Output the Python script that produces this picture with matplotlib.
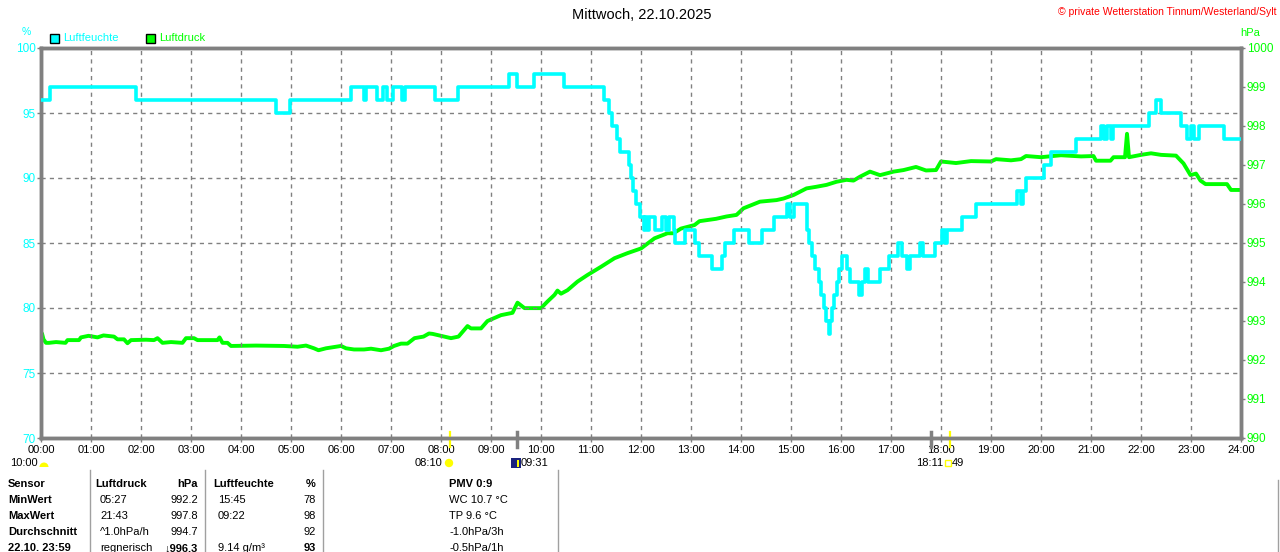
import matplotlib.pyplot as plt
from matplotlib.patches import Rectangle, Wedge, Circle

plt.rcParams['font.family'] = ['Liberation Sans', 'DejaVu Sans']

# Luftfeuchte (%) - stepwise readings, value holds until next time (hours)
hum_hours = [0, 0.17, 1.9, 4.69, 4.97, 6.2, 6.45, 6.5, 6.72, 6.84, 6.92, 7.04, 7.22, 7.28,
             7.88, 8.33, 9.37, 9.51, 9.86, 10.46, 11.25, 11.35, 11.41, 11.51, 11.57, 11.75,
             11.8, 11.83, 11.9, 11.98, 12.05, 12.08, 12.12, 12.16, 12.28, 12.41, 12.5, 12.55,
             12.65, 12.68, 12.88, 13.08, 13.15, 13.41, 13.61, 13.68, 13.85, 14.15, 14.41,
             14.65, 14.91, 14.98, 15.05, 15.31, 15.36, 15.41, 15.48, 15.55, 15.6, 15.65, 15.7,
             15.75, 15.78, 15.81, 15.86, 15.91, 15.96, 16.01, 16.11, 16.18, 16.35, 16.41,
             16.47, 16.53, 16.78, 16.95, 17.15, 17.22, 17.32, 17.37, 17.57, 17.64, 17.87,
             18.02, 18.08, 18.12, 18.42, 18.69, 19.52, 19.6, 19.64, 19.69, 20.05, 20.19,
             20.69, 21.19, 21.25, 21.31, 21.4, 21.44, 22.15, 22.29, 22.39, 22.79, 22.92,
             23.0, 23.05, 23.15, 23.65, 24]
hum_values = [96, 97, 96, 95, 96, 97, 96, 97, 96, 97, 96, 97, 96, 97,
              96, 97, 98, 97, 98, 97, 96, 95, 94, 93, 92, 91,
              90, 89, 88, 87, 86, 87, 86, 87, 86, 87, 86, 87,
              86, 85, 86, 85, 84, 83, 84, 85, 86, 85, 86,
              87, 88, 87, 88, 86, 85, 84, 83, 82, 81, 80, 79,
              78, 79, 80, 81, 82, 83, 84, 83, 82, 81, 82,
              83, 82, 83, 84, 85, 84, 83, 84, 85, 84, 85,
              86, 85, 86, 87, 88, 89, 88, 89, 90, 91, 92,
              93, 94, 93, 94, 93, 94, 95, 96, 95, 94, 93,
              94, 93, 94, 93, 93]

# Luftdruck (hPa)
pres_hours = [0.0, 0.02, 0.05, 0.1, 0.16, 0.3, 0.49, 0.53, 0.76, 0.8, 0.95, 1.13, 1.25, 1.46,
              1.53, 1.66, 1.73, 1.8, 2.1, 2.26, 2.33, 2.43, 2.6, 2.83, 2.9, 3.06, 3.13, 3.53,
              3.57, 3.63, 3.73, 3.8, 4.3, 4.86, 5.13, 5.3, 5.46, 5.55, 5.7, 6.0, 6.1, 6.26,
              6.46, 6.6, 6.8, 6.96, 7.06, 7.2, 7.33, 7.47, 7.65, 7.76, 7.83, 8.0, 8.2, 8.35,
              8.53, 8.6, 8.8, 8.93, 9.2, 9.43, 9.53, 9.67, 10.0, 10.13, 10.27, 10.33, 10.4,
              10.53, 10.73, 10.93, 11.2, 11.47, 11.73, 12.0, 12.27, 12.53, 12.65, 12.8, 13.07,
              13.17, 13.5, 13.71, 13.91, 14.05, 14.38, 14.71, 14.85, 15.05, 15.31, 15.5,
              15.71, 15.91, 16.11, 16.25, 16.38, 16.58, 16.78, 17.05, 17.25, 17.5, 17.7, 17.9,
              18.0, 18.3, 18.6, 19.0, 19.1, 19.4, 19.6, 19.7, 20.0, 20.4, 20.8, 21.05, 21.1,
              21.39, 21.45, 21.68, 21.72, 21.76, 22.0, 22.2, 22.4, 22.7, 22.85, 22.99, 23.1,
              23.19, 23.29, 23.72, 23.8, 24.0]
pres_values = [992.51, 992.68, 992.53, 992.44, 992.44, 992.46, 992.44, 992.51, 992.51, 992.58,
               992.62, 992.58, 992.63, 992.6, 992.53, 992.53, 992.43, 992.51, 992.52, 992.51,
               992.56, 992.44, 992.46, 992.44, 992.56, 992.56, 992.51, 992.51, 992.58, 992.44,
               992.44, 992.36, 992.37, 992.36, 992.34, 992.37, 992.3, 992.25, 992.3, 992.36,
               992.3, 992.27, 992.27, 992.29, 992.25, 992.29, 992.36, 992.42, 992.42, 992.56,
               992.6, 992.68, 992.67, 992.62, 992.56, 992.6, 992.87, 992.81, 992.81, 993.0,
               993.15, 993.21, 993.47, 993.33, 993.33, 993.5, 993.67, 993.78, 993.7, 993.79,
               994.01, 994.18, 994.39, 994.61, 994.74, 994.86, 995.12, 995.25, 995.25, 995.37,
               995.46, 995.56, 995.62, 995.68, 995.72, 995.89, 996.06, 996.1, 996.14, 996.23,
               996.4, 996.44, 996.49, 996.57, 996.62, 996.6, 996.7, 996.83, 996.74, 996.83,
               996.87, 996.95, 996.86, 996.87, 997.09, 997.05, 997.1, 997.09, 997.15, 997.12,
               997.15, 997.23, 997.2, 997.25, 997.22, 997.23, 997.11, 997.11, 997.2, 997.2,
               997.8, 997.2, 997.26, 997.3, 997.26, 997.24, 997.04, 996.74, 996.78, 996.6,
               996.51, 996.51, 996.36, 996.36]

hour_labels = ['%02d:00' % h for h in range(25)]
hum_ticks = [70, 75, 80, 85, 90, 95, 100]
pres_ticks = list(range(990, 1001))

# sunrise / sunset and moon marks on the time axis (hours)
sun_marks = [8.17, 18.18]
moon_marks = [9.52, 17.8]

table_rows = [
    ['Sensor', 'Luftdruck', 'hPa', 'Luftfeuchte', '%', 'PMV 0:9'],
    ['MinWert', '05:27', '992.2', '15:45', '78', 'WC 10.7 °C'],
    ['MaxWert', '21:43', '997.8', '09:22', '98', 'TP 9.6 °C'],
    ['Durchschnitt', '^1.0hPa/h', '994.7', '', '92', '-1.0hPa/3h'],
    ['22.10. 23:59', 'regnerisch', '\u2193996.3', '9.14 g/m³', '93', '-0.5hPa/1h'],
]

W, H = 1280, 552
CYAN = '#00ffff'
GREEN = '#00ff00'
GRAY = '#808080'


def fx(x):
    return x / W


def fy(y):
    return 1 - y / H


def inch(x, y):
    # pixel position (from top-left) to inches for dpi_scale_trans
    return x / 100, (H - y) / 100


fig = plt.figure(figsize=(12.8, 5.52), dpi=100)
ax = fig.add_axes([fx(41), fy(438), 1200 / W, 390 / H])
ax2 = ax.twinx()

ax.set_xlim(0, 24)
ax.set_ylim(70, 100)
ax2.set_ylim(990, 1000)

for s in list(ax.spines.values()) + list(ax2.spines.values()):
    s.set_color(GRAY)
    s.set_linewidth(2.5)

ax.set_xticks(range(25))
ax.set_xticklabels(hour_labels, fontsize=8)
ax.set_yticks(hum_ticks)
ax.set_yticklabels([str(v) for v in hum_ticks], fontsize=8.5, color=CYAN)
ax2.set_yticks(pres_ticks)
ax2.set_yticklabels([str(v) for v in pres_ticks], fontsize=8.5, color=GREEN)
ax.tick_params(axis='x', length=3, width=1, color=GRAY, pad=2)
ax.tick_params(axis='y', length=3, width=1, color=GRAY, pad=1)
ax2.tick_params(axis='y', length=3, width=1, color=GRAY, pad=1)

ax.grid(True, color=GRAY, linestyle=(0, (3, 3)), linewidth=1)
ax.set_axisbelow(True)

ax2.plot(pres_hours, pres_values, color=GREEN, linewidth=2.8, zorder=2)
ax.set_zorder(ax2.get_zorder() + 1)
ax.patch.set_visible(False)
ax.plot(hum_hours, hum_values, color=CYAN, linewidth=2.6, drawstyle='steps-post', zorder=3)

# sun / moon marks
xt = ax.get_xaxis_transform()
for h in sun_marks:
    ax.plot([h, h], [0.016, -0.022], color='#ffff00', linewidth=1.6, transform=xt, clip_on=False)
for h in moon_marks:
    ax.plot([h, h], [0.016, -0.022], color=GRAY, linewidth=2.5, transform=xt, clip_on=False)

# titles and legend
fig.text(fx(642), fy(15), 'Mittwoch, 22.10.2025', fontsize=10.5, ha='center', va='center')
fig.text(fx(1277), fy(12), '\u00a9 private Wetterstation Tinnum/Westerland/Sylt', fontsize=7.5,
         color='red', ha='right', va='center')
fig.text(fx(26), fy(32), '%', fontsize=7.5, color=CYAN, ha='center', va='center')
fig.text(fx(1250), fy(33), 'hPa', fontsize=8, color=GREEN, ha='center', va='center')
dst = fig.dpi_scale_trans
fig.patches.append(Rectangle(inch(50, 43), 0.09, 0.09, facecolor=CYAN, edgecolor='black',
                             linewidth=1, transform=dst, figure=fig))
fig.text(fx(63), fy(38), 'Luftfeuchte', fontsize=8, color=CYAN, va='center')
fig.patches.append(Rectangle(inch(146, 43), 0.09, 0.09, facecolor=GREEN, edgecolor='black',
                             linewidth=1, transform=dst, figure=fig))
fig.text(fx(159), fy(38), 'Luftdruck', fontsize=8, color=GREEN, va='center')

# sunrise/moon texts under the axis
fig.text(fx(10), fy(463), '10:00', fontsize=8, va='center')
fig.patches.append(Wedge(inch(44, 467), 0.045, 0, 180, facecolor='#ffff00', edgecolor='none',
                         transform=dst, figure=fig))
fig.text(fx(415), fy(463), '08:10', fontsize=8, va='center')
fig.patches.append(Circle(inch(449, 463), 0.035, facecolor='#ffff00', edgecolor='#ffff00',
                          transform=dst, figure=fig))
fig.patches.append(Rectangle(inch(511, 468), 0.1, 0.1, facecolor='#1a237e',
                             edgecolor='none', transform=dst, figure=fig))
fig.patches.append(Rectangle(inch(517, 467), 0.02, 0.07, facecolor='#ffff00',
                             edgecolor='none', transform=dst, figure=fig))
fig.text(fx(521), fy(463), '09:31', fontsize=8, va='center')
fig.text(fx(916), fy(463), '18:11', fontsize=8, va='center')
fig.patches.append(Rectangle(inch(945, 466), 0.06, 0.06, facecolor='none',
                             edgecolor='#ffff00', linewidth=1, transform=dst, figure=fig))
fig.text(fx(952), fy(463), '49', fontsize=8, va='center')

# table
for xs in [90, 205, 323, 558, 1278]:
    top = 470 if xs != 1278 else 480
    fig.add_artist(plt.Line2D([fx(xs), fx(xs)], [fy(top), fy(552)], color='#a0a0a0',
                              linewidth=1, transform=fig.transFigure))

row_y = [484, 500, 516, 532, 548]
col_x = [8, 100, 198, 218, 316, 449]
col_ha = ['left', 'left', 'right', 'left', 'right', 'left']
for r, row in enumerate(table_rows):
    for c, txt in enumerate(row):
        x = col_x[c]
        if r == 0 and c in (1, 3):
            x = 95 if c == 1 else 213
        bold = r == 0 or c == 0 or (r == 4 and c in (2, 4))
        fig.text(fx(x), fy(row_y[r]), txt, fontsize=8, ha=col_ha[c], va='center',
                 fontweight='bold' if bold else 'normal')

fig.savefig('out.png', dpi=100, facecolor='white')
